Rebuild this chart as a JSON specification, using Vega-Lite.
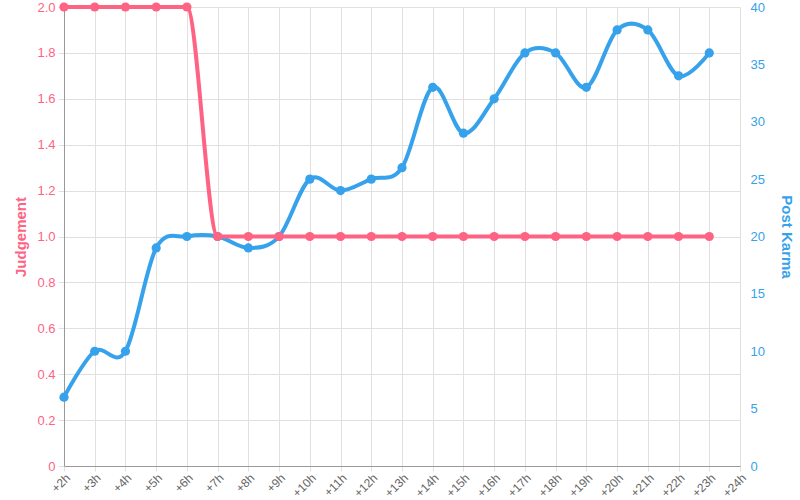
{
  "$schema": "https://vega.github.io/schema/vega-lite/v6.json",
  "autosize": "none",
  "width": 676,
  "height": 459,
  "padding": {"left": 64, "top": 7, "right": 60, "bottom": 34},
  "background": "white",
  "config": {"view": {"stroke": null}, "font": "Liberation Sans"},
  "data": {"values": [
    {"hour": "+2h", "judgement": 2, "karma": 6},
    {"hour": "+3h", "judgement": 2, "karma": 10},
    {"hour": "+4h", "judgement": 2, "karma": 10},
    {"hour": "+5h", "judgement": 2, "karma": 19},
    {"hour": "+6h", "judgement": 2, "karma": 20},
    {"hour": "+7h", "judgement": 1, "karma": 20},
    {"hour": "+8h", "judgement": 1, "karma": 19},
    {"hour": "+9h", "judgement": 1, "karma": 20},
    {"hour": "+10h", "judgement": 1, "karma": 25},
    {"hour": "+11h", "judgement": 1, "karma": 24},
    {"hour": "+12h", "judgement": 1, "karma": 25},
    {"hour": "+13h", "judgement": 1, "karma": 26},
    {"hour": "+14h", "judgement": 1, "karma": 33},
    {"hour": "+15h", "judgement": 1, "karma": 29},
    {"hour": "+16h", "judgement": 1, "karma": 32},
    {"hour": "+17h", "judgement": 1, "karma": 36},
    {"hour": "+18h", "judgement": 1, "karma": 36},
    {"hour": "+19h", "judgement": 1, "karma": 33},
    {"hour": "+20h", "judgement": 1, "karma": 38},
    {"hour": "+21h", "judgement": 1, "karma": 38},
    {"hour": "+22h", "judgement": 1, "karma": 34},
    {"hour": "+23h", "judgement": 1, "karma": 36},
    {"hour": "+24h", "judgement": null, "karma": null}
  ]},
  "encoding": {
    "x": {
      "field": "hour", "type": "ordinal", "sort": null,
      "scale": {"type": "point", "padding": 0},
      "axis": {
        "title": null, "labelAngle": -45, "labelColor": "#666", "labelFontSize": 12,
        "domainColor": "#999", "tickColor": "#e0e0e0", "tickSize": 5,
        "gridColor": "#e0e0e0", "grid": true, "labelPadding": 1
      }
    }
  },
  "layer": [
    {
      "layer": [
        {"mark": {"type": "line", "interpolate": "cardinal", "color": "#36a2eb", "strokeWidth": 4}},
        {"mark": {"type": "point", "filled": true, "opacity": 1, "color": "#36a2eb", "size": 85}}
      ],
      "encoding": {
        "y": {
          "field": "karma", "type": "quantitative",
          "scale": {"domain": [0, 40], "nice": false},
          "axis": {
            "orient": "right", "title": "Post Karma", "titleColor": "#36a2eb", "titleFontSize": 15,
            "titleFontWeight": "bold", "titleAngle": 90, "titlePadding": 14,
            "labelColor": "#36a2eb", "labelFontSize": 13, "values": [0,5,10,15,20,25,30,35,40],
            "grid": false, "ticks": false, "domain": false, "labelPadding": 10
          }
        }
      }
    },
    {
      "layer": [
        {"mark": {"type": "line", "interpolate": "monotone", "color": "#ff6384", "strokeWidth": 4}},
        {"mark": {"type": "point", "filled": true, "opacity": 1, "color": "#ff6384", "size": 85}}
      ],
      "encoding": {
        "y": {
          "field": "judgement", "type": "quantitative",
          "scale": {"domain": [0, 2], "nice": false},
          "axis": {
            "orient": "left", "title": "Judgement", "titleColor": "#ff6384", "titleFontSize": 15,
            "titleFontWeight": "bold", "titlePadding": 8,
            "labelColor": "#ff6384", "labelFontSize": 13,
            "values": [0,0.2,0.4,0.6,0.8,1.0,1.2,1.4,1.6,1.8,2.0],
            "labelExpr": "datum.value == 0 ? '0' : format(datum.value, '.1f')",
            "grid": true, "gridColor": "#e0e0e0", "tickColor": "#e0e0e0", "tickSize": 6,
            "domainColor": "#999", "labelPadding": 3
          }
        }
      }
    }
  ],
  "resolve": {"scale": {"y": "independent"}}
}
